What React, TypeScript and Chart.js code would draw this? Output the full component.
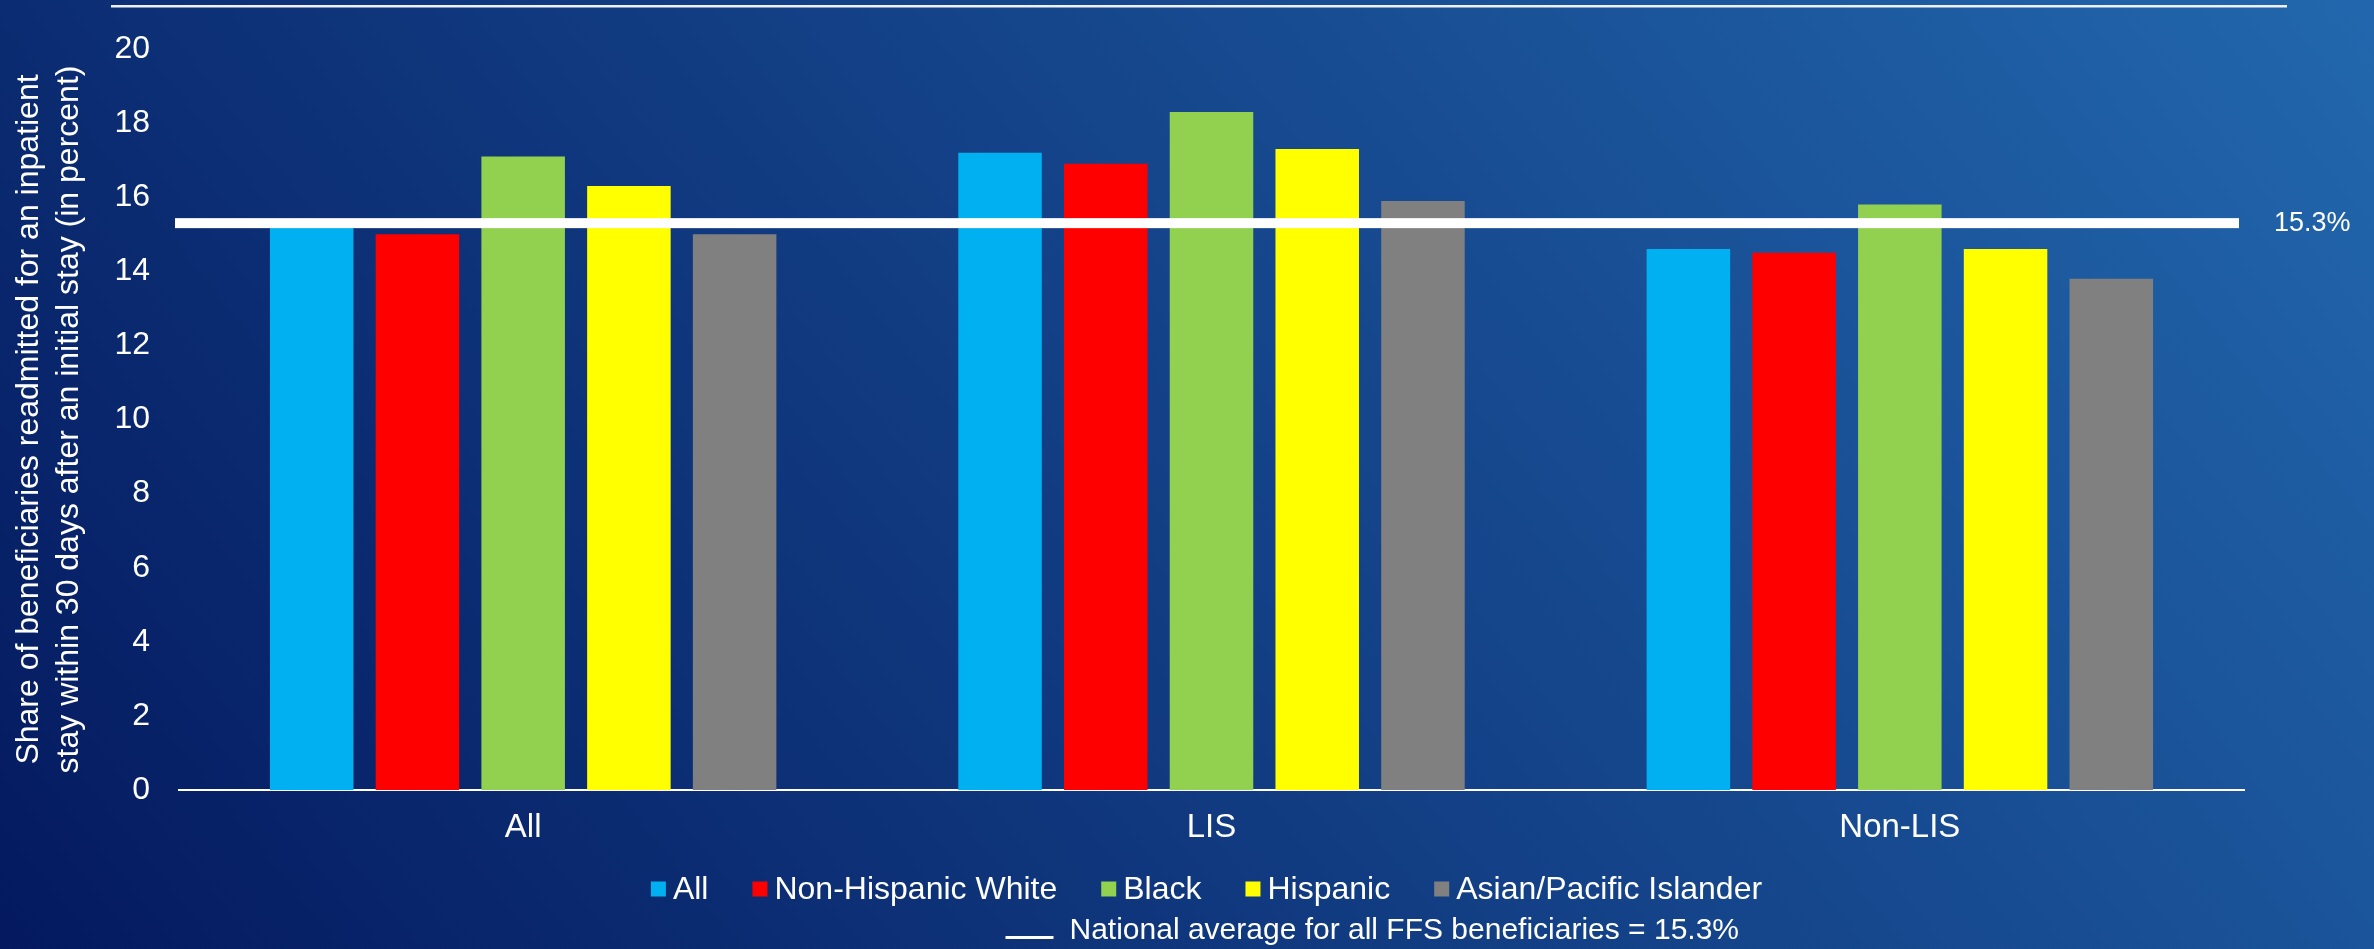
import React, { useEffect, useRef } from "react";
import { Chart, registerables } from "chart.js";

Chart.register(...registerables);

// ---------- data ----------
const categories = ["All", "LIS", "Non-LIS"];
const seriesNames = ["All", "Non-Hispanic White", "Black", "Hispanic", "Asian/Pacific Islander"];
const allValues = [15.3, 17.2, 14.6];
const whiteValues = [15.0, 16.9, 14.5];
const blackValues = [17.1, 18.3, 15.8];
const hispanicValues = [16.3, 17.3, 14.6];
const asianValues = [15.0, 15.9, 13.8];
const seriesColors = ["#00B0F0", "#FF0000", "#92D050", "#FFFF00", "#808080"];
const yTicks = [0, 2, 4, 6, 8, 10, 12, 14, 16, 18, 20];
const nationalAverage = 15.3;
const averageLabel = "15.3%";
const averageLegend = "National average for all FFS beneficiaries = 15.3%";
const yTitle = [
  "Share of beneficiaries readmitted for an inpatient",
  "stay within 30 days after an initial stay (in percent)",
];

const FONT = "'Liberation Sans', Arial, sans-serif";
const W = 2374;
const H = 949;

const backgroundPlugin = {
  id: "slideBackground",
  beforeDraw(chart: any) {
    const ctx = chart.ctx;
    ctx.save();
    const g = ctx.createLinearGradient(-463, 371, 1446, -1158);
    g.addColorStop(0, "#04195f");
    g.addColorStop(1, "#2267ad");
    ctx.fillStyle = g;
    ctx.fillRect(0, 0, chart.width, chart.height);
    // top separator line
    ctx.fillStyle = "#eef2f8";
    ctx.fillRect(111, 5, 2176, 2.5);
    ctx.restore();
  },
};

const averagePlugin = {
  id: "averageLine",
  afterDatasetsDraw(chart: any) {
    const ctx = chart.ctx;
    const ca = chart.chartArea;
    const y = chart.scales.y.getPixelForValue(nationalAverage);
    ctx.save();
    ctx.fillStyle = "#ffffff";
    ctx.fillRect(ca.left - 4, y - 5, ca.right - ca.left - 1, 10);
    ctx.font = `27px ${FONT}`;
    ctx.textAlign = "left";
    ctx.textBaseline = "middle";
    ctx.fillText(averageLabel, ca.right + 30, y);
    ctx.restore();
  },
};

const legendPlugin = {
  id: "customLegend",
  afterDraw(chart: any) {
    const ctx = chart.ctx;
    const ca = chart.chartArea;
    const ds = chart.data.datasets;
    ctx.save();
    ctx.textBaseline = "middle";
    ctx.textAlign = "left";
    ctx.fillStyle = "#ffffff";
    // row 1
    ctx.font = `32px ${FONT}`;
    const box = 15;
    const gapBox = 7;
    const gapItem = 44;
    const widths = ds.map((d: any) => ctx.measureText(d.label).width);
    let total = 0;
    widths.forEach((w: number) => (total += box + gapBox + w));
    total += gapItem * (ds.length - 1);
    let x = (ca.left + ca.right) / 2 - 5 - total / 2;
    const y1 = chart.height - 60;
    ds.forEach((d: any, i: number) => {
      ctx.fillStyle = d.backgroundColor;
      ctx.fillRect(x, y1 - box / 2, box, box);
      x += box + gapBox;
      ctx.fillStyle = "#ffffff";
      ctx.fillText(d.label, x, y1 + 1);
      x += widths[i] + gapItem;
    });
    // row 2
    ctx.font = `30px ${FONT}`;
    const lineW = 48;
    const gapLine = 16;
    const x2 = (ca.left + ca.right) / 2 - 206;
    const y2 = chart.height - 18;
    ctx.fillStyle = "#ffffff";
    ctx.fillRect(x2, y2 + 5, lineW, 3);
    ctx.fillText(averageLegend, x2 + lineW + gapLine, y2);
    ctx.restore();
  },
};

export default function App() {
  const canvasRef = useRef<HTMLCanvasElement | null>(null);

  useEffect(() => {
    document.body.style.margin = "0";
    document.body.style.overflow = "hidden";
    const canvas = canvasRef.current;
    if (!canvas) return;
    const seriesValues = [allValues, whiteValues, blackValues, hispanicValues, asianValues];
    const chart = new Chart(canvas, {
      type: "bar",
      data: {
        labels: categories,
        datasets: seriesNames.map((name, i) => ({
          label: name,
          data: seriesValues[i],
          backgroundColor: seriesColors[i],
          borderWidth: 0,
          categoryPercentage: 0.768,
          barPercentage: 0.79,
        })),
      },
      options: {
        animation: false,
        responsive: true,
        maintainAspectRatio: false,
        devicePixelRatio: 1,
        layout: { padding: { left: 0, right: 130, top: 49, bottom: 0 } },
        plugins: {
          legend: { display: false },
          tooltip: { enabled: false },
        },
        scales: {
          x: {
            z: 1,
            grid: { display: false, drawTicks: false },
            border: { display: true, color: "#ffffff", width: 2 },
            ticks: {
              color: "#ffffff",
              font: { family: FONT, size: 33 },
              padding: 18,
            },
            afterFit: (s: any) => {
              s.height = H - 790;
            },
          },
          y: {
            min: 0,
            max: 20,
            grid: { display: false, drawTicks: false },
            border: { display: false },
            ticks: {
              color: "#ffffff",
              font: { family: FONT, size: 32 },
              padding: 29,
            },
            afterBuildTicks: (s: any) => {
              s.ticks = yTicks.map((v) => ({ value: v }));
            },
            afterFit: (s: any) => {
              s.width = 179;
            },
            title: {
              display: true,
              text: yTitle,
              color: "#ffffff",
              font: { family: FONT, size: 32, lineHeight: 1.25 },
              padding: { top: 9, bottom: 0 },
            },
          },
        },
      },
      plugins: [backgroundPlugin, averagePlugin, legendPlugin],
    });
    return () => chart.destroy();
  }, []);

  return (
    <div style={{ position: "fixed", left: 0, top: 0, width: W, height: H }}>
      <canvas ref={canvasRef} />
    </div>
  );
}
